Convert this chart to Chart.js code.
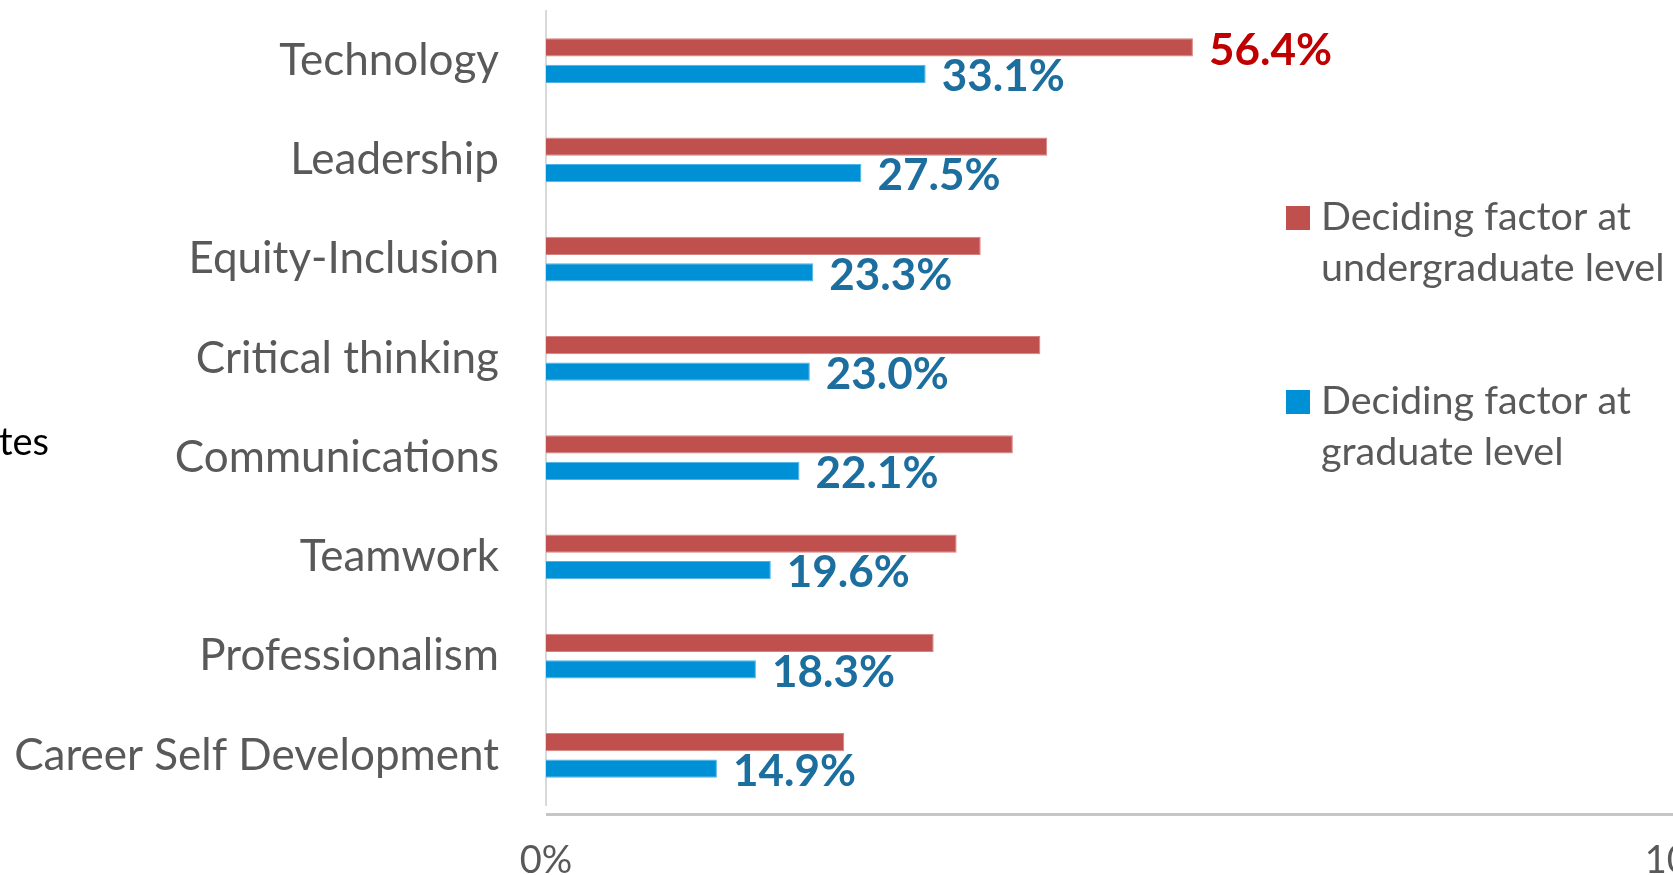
<!DOCTYPE html>
<html>
<head>
<meta charset="utf-8">
<title>Deciding factors</title>
<script src="https://cdn.jsdelivr.net/npm/chart.js@4.4.0/dist/chart.umd.min.js"></script>
<style>
  html, body { margin: 0; padding: 0; background: #fff; overflow: hidden; }
  #wrap { position: relative; width: 1760px; height: 875px; }
</style>
</head>
<body>
<div id="wrap"><canvas id="factors"></canvas></div>
<script>
const skills = ['Technology', 'Leadership', 'Equity-Inclusion', 'Critical thinking', 'Communications', 'Teamwork', 'Professionalism', 'Career Self Development'];
const undergradPct = [56.4, 43.7, 37.9, 43.1, 40.7, 35.8, 33.8, 26.0];
const graduatePct = [33.1, 27.5, 23.3, 23.0, 22.1, 19.6, 18.3, 14.9];
// only the top undergraduate bar carries a value label
const undergradLabelled = [true, false, false, false, false, false, false, false];
const graduateLabelled = [true, true, true, true, true, true, true, true];
const undergradLegend = ['Deciding factor at', 'undergraduate level'];
const graduateLegend = ['Deciding factor at', 'graduate level'];
const xTicks = [0, 100];
const sideTitle = 'tes';

const RED = '#C0504D';
const BLUE = '#0090D5';
const GREY_TEXT = '#595959';

const valueLabels = {
  id: 'valueLabels',
  afterDatasetsDraw(chart) {
    const ctx = chart.ctx;
    ctx.save();
    ctx.font = 'bold 44px Lato';
    ctx.textAlign = 'left';
    ctx.textBaseline = 'middle';
    chart.data.datasets.forEach((ds, i) => {
      chart.getDatasetMeta(i).data.forEach((bar, j) => {
        if (!ds.labelled[j]) return;
        ctx.fillStyle = ds.valueColor;
        ctx.fillText(ds.data[j].toFixed(1) + '%', bar.x + 16, bar.y + 3);
      });
    });
    ctx.restore();
  }
};

// legend on the right, with wrapped text
const sideLegend = {
  id: 'sideLegend',
  afterDraw(chart) {
    const ctx = chart.ctx;
    const x = 1286, lineGap = 51;
    const firstLines = [230, 414];
    ctx.save();
    ctx.font = '39.5px Lato';
    ctx.textAlign = 'left';
    ctx.textBaseline = 'alphabetic';
    chart.data.datasets.forEach((ds, i) => {
      const base = firstLines[i];
      ctx.fillStyle = ds.backgroundColor;
      ctx.fillRect(x, base - 24, 24, 24);
      ctx.fillStyle = GREY_TEXT;
      ds.legendLines.forEach((line, k) => {
        ctx.fillText(line, x + 35, base + k * lineGap);
      });
    });
    // cut-off axis title at the far left
    ctx.fillStyle = '#000';
    ctx.font = '38px Lato';
    ctx.textAlign = 'right';
    ctx.fillText(sideTitle, 49, 455);
    ctx.restore();
  }
};

// value axis line, set a little below the plot
const baseLine = {
  id: 'baseLine',
  afterDraw(chart) {
    const {ctx, chartArea} = chart;
    ctx.save();
    ctx.strokeStyle = '#C6C6C6';
    ctx.lineWidth = 3;
    ctx.beginPath();
    ctx.moveTo(chartArea.left, chartArea.bottom + 9.5);
    ctx.lineTo(chart.width, chartArea.bottom + 9.5);
    ctx.stroke();
    ctx.restore();
  }
};

new Chart(document.getElementById('factors'), {
  type: 'bar',
  data: {
    labels: skills,
    datasets: [
      {
        label: undergradLegend.join(' '),
        legendLines: undergradLegend,
        data: undergradPct,
        labelled: undergradLabelled,
        valueColor: '#C00000',
        backgroundColor: RED,
        borderColor: '#D4827F',
        borderWidth: 1,
        categoryPercentage: 0.534,
        barPercentage: 0.68
      },
      {
        label: graduateLegend.join(' '),
        legendLines: graduateLegend,
        data: graduatePct,
        labelled: graduateLabelled,
        valueColor: '#1C6E9F',
        backgroundColor: BLUE,
        borderColor: '#4FB3E6',
        borderWidth: 1,
        categoryPercentage: 0.534,
        barPercentage: 0.68
      }
    ]
  },
  options: {
    indexAxis: 'y',
    responsive: true,
    maintainAspectRatio: false,
    animation: false,
    layout: { padding: { top: 11, right: 67, bottom: 0, left: 0 } },
    plugins: {
      legend: { display: false },
      tooltip: { enabled: false }
    },
    scales: {
      x: {
        min: 0,
        max: 100,
        afterBuildTicks: (scale) => { scale.ticks = xTicks.map(v => ({ value: v })); },
        afterFit: (scale) => {
          scale.height = 70;
          scale.paddingLeft = 0;
          scale.paddingRight = 0;
        },
        grid: { display: false, drawTicks: false },
        border: { display: false },
        ticks: {
          padding: 33,
          color: GREY_TEXT,
          font: { family: 'Lato', size: 38 },
          callback: (v) => v + '%'
        }
      },
      y: {
        afterFit: (scale) => {
          scale.width = 546;
          scale.paddingTop = 0;
          scale.paddingBottom = 0;
        },
        grid: { display: false, drawTicks: false },
        border: { display: true, color: '#D9D9D9', width: 2 },
        ticks: {
          padding: 47,
          color: GREY_TEXT,
          font: { family: 'Lato', size: 44 }
        }
      }
    }
  },
  plugins: [valueLabels, sideLegend, baseLine]
});
</script>
</body>
</html>
